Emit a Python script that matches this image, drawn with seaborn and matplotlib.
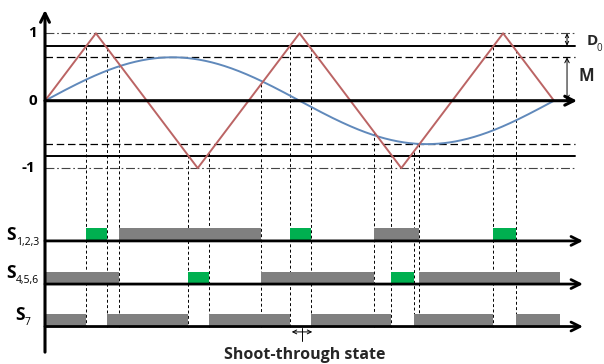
import numpy as np
import pandas as pd
import matplotlib
matplotlib.use("Agg")
import matplotlib.pyplot as plt
import seaborn as sns

# ---------------- data ----------------
# carrier (triangle) vertices: angle in degrees of the reference period, value
carrier_deg = [0, 36, 108, 180, 252, 324, 360]
carrier_val = [0, 1, -1, 1, -1, 1, 0]
# modulation index (sine amplitude) and shoot-through threshold (1 - D0)
M = 0.644
shoot_level = 0.816
# switching states, (start, end) in degrees
s123_on = [(52.6, 152.8), (232.9, 264.7)]
s123_st = [(28.8, 44.1), (173.3, 188.1), (316.9, 333.1)]
s456_on = [(0, 52.6), (152.8, 232.9), (264.7, 364.2)]
s456_st = [(100.9, 116.2), (244.5, 260.8)]
s7_on = [(0, 28.8), (44.1, 100.9), (116.2, 173.3), (188.1, 244.5),
         (260.8, 316.9), (333.1, 364.2)]
transitions = [28.8, 44.1, 52.6, 100.9, 116.2, 152.8, 173.3, 188.1,
               232.9, 244.5, 260.8, 264.7, 316.9, 333.1]
row_subs = ["1,2,3", "4,5,6", "7"]
level_labels = ["1", "0", "-1"]
level_vals = [1, 0, -1]

# layout (data units)
row_base = [-2.08, -2.72, -3.35]
bar_h = 0.185
x_end_ref = 374.8
x_end_zero = 376.3
x_end_row = 380.5

sns.set_theme(style="white")
plt.rcParams["font.family"] = ["Open Sans", "DejaVu Sans"]

fig = plt.figure(figsize=(6.04, 3.64), dpi=100)
ax = fig.add_axes([0, 0, 1, 1])
ax.set_xlim(-31.83, 395.35)
ax.set_ylim(-3.906, 1.494)
ax.axis("off")

# reference horizontal lines
for v in (1, -1):
    ax.plot([0, x_end_ref], [v, v], color="#444444", lw=0.8,
            ls=(0, (8, 2.5, 1.5, 2.5)), zorder=1)
for v in (M, -M):
    ax.plot([0, x_end_ref], [v, v], color="black", lw=0.9,
            ls=(0, (6, 3)), zorder=1)
for v in (shoot_level, -shoot_level):
    ax.plot([0, x_end_ref], [v, v], color="black", lw=1.4, zorder=1)

# waveforms
theta = np.linspace(0, 360, 721)
df_sine = pd.DataFrame({"deg": theta, "val": M * np.sin(np.deg2rad(theta))})
df_car = pd.DataFrame({"deg": carrier_deg, "val": carrier_val})
sns.lineplot(data=df_sine, x="deg", y="val", ax=ax, color="#6089bb",
             lw=1.4, sort=False, estimator=None, zorder=3)
sns.lineplot(data=df_car, x="deg", y="val", ax=ax, color="#bb6464",
             lw=1.4, sort=False, estimator=None, zorder=3)
ax.axis("off")

# vertical dashed transition lines
for t in transitions:
    top = np.interp(t, carrier_deg, carrier_val)
    ax.plot([t, t], [top, row_base[2]], color="black", lw=0.7,
            ls=(0, (3, 2.5)), zorder=2)

# switching bars
rows = [(s123_on, s123_st), (s456_on, s456_st), (s7_on, [])]
for base, (on, st) in zip(row_base, rows):
    ax.broken_barh([(a, b - a) for a, b in on], (base, bar_h),
                   facecolor="#808080", edgecolor="none", zorder=4)
    if st:
        ax.broken_barh([(a, b - a) for a, b in st], (base, bar_h),
                       facecolor="#00b050", edgecolor="none", zorder=4)
    ax.annotate("", xy=(x_end_row, base), xytext=(0, base),
                arrowprops=dict(arrowstyle="->", lw=2.0, color="black",
                                mutation_scale=16, shrinkA=0, shrinkB=0),
                zorder=5)

# zero axis and vertical axis
ax.annotate("", xy=(x_end_zero, 0), xytext=(0, 0),
            arrowprops=dict(arrowstyle="->", lw=2.2, color="black",
                            mutation_scale=16, shrinkA=0, shrinkB=0), zorder=5)
ax.annotate("", xy=(0, 1.346), xytext=(0, -3.73),
            arrowprops=dict(arrowstyle="->", lw=2.2, color="black",
                            mutation_scale=16, shrinkA=0, shrinkB=0), zorder=5)

# level labels
for lab, v, xx in zip(level_labels, level_vals, [-8.5, -8.5, -11.7]):
    ax.text(xx, v, lab, ha="center", va="center", fontsize=11,
            fontweight="bold", color="black")

# row labels
s_x = [-27.6, -27.6, -21.2]
sub_x = [-20.8, -20.8, -14.2]
s_y = [-1.99, -2.55, -3.18]
sub_y = [-2.10, -2.66, -3.29]
for sub, sx, subx, sy, suby in zip(row_subs, s_x, sub_x, s_y, sub_y):
    ax.text(sx, sy, "S", ha="left", va="center", fontsize=12.5,
            fontweight="bold", color="black")
    ax.text(subx, suby, sub, ha="left", va="center", fontsize=7.5,
            color="black")

# D0 and M annotations
ax.annotate("", xy=(369.2, 1.0), xytext=(369.2, shoot_level),
            arrowprops=dict(arrowstyle="<->", lw=0.7, color="black",
                            mutation_scale=6, shrinkA=0, shrinkB=0))
ax.annotate("", xy=(369.2, M), xytext=(369.2, 0),
            arrowprops=dict(arrowstyle="<->", lw=0.7, color="black",
                            mutation_scale=8, shrinkA=0, shrinkB=0))
ax.text(383.0, 0.886, "D", ha="left", va="center", fontsize=11,
        fontweight="bold")
ax.text(390.0, 0.78, "0", ha="left", va="center", fontsize=7)
ax.text(377.0, 0.366, "M", ha="left", va="center", fontsize=12,
        fontweight="bold")

# shoot-through annotation
ax.annotate("", xy=(174.5, -3.43), xytext=(189.0, -3.43),
            arrowprops=dict(arrowstyle="<->", lw=0.7, color="black",
                            mutation_scale=7, shrinkA=0, shrinkB=0))
ax.plot([181.5, 181.5], [-3.37, -3.57], color="black", lw=0.7)
ax.text(183.5, -3.83, "Shoot-through state", ha="center", va="baseline",
        fontsize=11.5, fontweight="bold")

fig.savefig("out.png", dpi=100)
